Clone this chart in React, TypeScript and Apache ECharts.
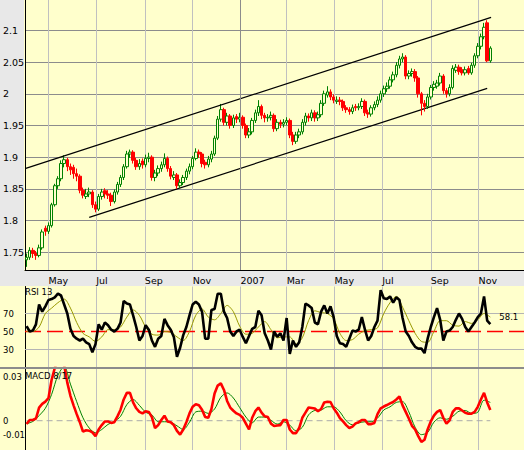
import React, { useEffect, useRef } from 'react';
import * as echarts from 'echarts';

// ---------- data ----------
const X_START: [number, number, number] = [2006, 3, 1]; // 1 Apr 2006
const X_END: [number, number, number] = [2007, 11, 29]; // 29 Dec 2007
const FIRST_BAR: [number, number, number] = [2006, 3, 3];
const BAR_STEP_DAYS = 4;
const MONTHS = ['Jan', 'Feb', 'Mar', 'Apr', 'May', 'Jun', 'Jul', 'Aug', 'Sep', 'Oct', 'Nov', 'Dec'];

// [open, close, low, high]
const CANDLES: number[][] = [
  [1.738, 1.742, 1.727, 1.748], [1.742, 1.753, 1.738, 1.758], [1.753, 1.748, 1.741, 1.757], [1.748, 1.745, 1.738, 1.752],
  [1.745, 1.757, 1.742, 1.762], [1.757, 1.782, 1.754, 1.786], [1.788, 1.783, 1.776, 1.792], [1.783, 1.792, 1.779, 1.797],
  [1.792, 1.825, 1.789, 1.828], [1.825, 1.855, 1.822, 1.858], [1.855, 1.866, 1.85, 1.87], [1.866, 1.89, 1.862, 1.895],
  [1.89, 1.896, 1.884, 1.903], [1.896, 1.885, 1.878, 1.899], [1.885, 1.88, 1.872, 1.89], [1.884, 1.874, 1.866, 1.888],
  [1.874, 1.87, 1.862, 1.882], [1.87, 1.848, 1.843, 1.873], [1.848, 1.84, 1.835, 1.852], [1.838, 1.842, 1.834, 1.85],
  [1.842, 1.845, 1.837, 1.852], [1.845, 1.825, 1.82, 1.848], [1.825, 1.818, 1.813, 1.83], [1.818, 1.838, 1.815, 1.842],
  [1.838, 1.845, 1.833, 1.85], [1.847, 1.842, 1.835, 1.851], [1.842, 1.84, 1.834, 1.848], [1.84, 1.83, 1.823, 1.844],
  [1.83, 1.845, 1.827, 1.849], [1.845, 1.857, 1.841, 1.861], [1.857, 1.868, 1.853, 1.872], [1.868, 1.885, 1.864, 1.889],
  [1.885, 1.905, 1.882, 1.91], [1.905, 1.908, 1.899, 1.912], [1.908, 1.895, 1.89, 1.911], [1.895, 1.885, 1.88, 1.899],
  [1.885, 1.89, 1.88, 1.897], [1.894, 1.888, 1.882, 1.898], [1.888, 1.898, 1.884, 1.904], [1.898, 1.9, 1.892, 1.907],
  [1.9, 1.868, 1.863, 1.903], [1.868, 1.875, 1.862, 1.88], [1.875, 1.882, 1.87, 1.887], [1.882, 1.888, 1.877, 1.893],
  [1.888, 1.898, 1.884, 1.906], [1.898, 1.882, 1.877, 1.901], [1.882, 1.87, 1.865, 1.886], [1.868, 1.872, 1.864, 1.878],
  [1.872, 1.855, 1.85, 1.875], [1.855, 1.86, 1.851, 1.865], [1.86, 1.868, 1.856, 1.872], [1.868, 1.878, 1.864, 1.882],
  [1.878, 1.885, 1.873, 1.89], [1.885, 1.898, 1.881, 1.902], [1.898, 1.908, 1.895, 1.914], [1.908, 1.905, 1.899, 1.912],
  [1.905, 1.89, 1.884, 1.908], [1.892, 1.888, 1.882, 1.896], [1.888, 1.897, 1.884, 1.902], [1.897, 1.905, 1.892, 1.91],
  [1.905, 1.93, 1.902, 1.934], [1.93, 1.96, 1.927, 1.965], [1.96, 1.975, 1.956, 1.984], [1.975, 1.955, 1.95, 1.978],
  [1.955, 1.965, 1.95, 1.97], [1.965, 1.95, 1.945, 1.968], [1.95, 1.962, 1.946, 1.967], [1.964, 1.96, 1.954, 1.968],
  [1.96, 1.963, 1.955, 1.97], [1.963, 1.95, 1.945, 1.966], [1.95, 1.935, 1.93, 1.953], [1.935, 1.94, 1.93, 1.946],
  [1.94, 1.958, 1.936, 1.962], [1.958, 1.97, 1.954, 1.975], [1.97, 1.98, 1.965, 1.99], [1.98, 1.966, 1.96, 1.983],
  [1.966, 1.962, 1.955, 1.97], [1.962, 1.963, 1.956, 1.968], [1.963, 1.966, 1.958, 1.972], [1.966, 1.945, 1.94, 1.969],
  [1.945, 1.955, 1.941, 1.96], [1.955, 1.952, 1.946, 1.959], [1.952, 1.955, 1.947, 1.96], [1.955, 1.958, 1.95, 1.963],
  [1.958, 1.935, 1.93, 1.961], [1.935, 1.925, 1.919, 1.94], [1.925, 1.935, 1.921, 1.94], [1.935, 1.94, 1.93, 1.945],
  [1.94, 1.955, 1.936, 1.96], [1.955, 1.965, 1.95, 1.97], [1.965, 1.962, 1.956, 1.969], [1.962, 1.97, 1.957, 1.975],
  [1.97, 1.962, 1.956, 1.974], [1.962, 1.967, 1.957, 1.972], [1.967, 1.985, 1.963, 1.99], [1.985, 2.0, 1.981, 2.005],
  [1.998, 2.003, 1.994, 2.012], [2.003, 1.995, 1.99, 2.007], [1.995, 1.99, 1.985, 1.999], [1.988, 1.99, 1.984, 1.996],
  [1.99, 1.988, 1.982, 1.995], [1.988, 1.978, 1.973, 1.991], [1.978, 1.975, 1.97, 1.982], [1.975, 1.972, 1.967, 1.979],
  [1.972, 1.978, 1.968, 1.983], [1.98, 1.978, 1.973, 1.984], [1.978, 1.98, 1.974, 1.985], [1.98, 1.988, 1.976, 1.993],
  [1.988, 1.97, 1.965, 1.991], [1.97, 1.968, 1.962, 1.975], [1.968, 1.978, 1.964, 1.982], [1.978, 1.983, 1.974, 1.988],
  [1.983, 1.99, 1.979, 1.996], [1.99, 2.0, 1.986, 2.005], [2.0, 2.008, 1.995, 2.013], [2.008, 2.012, 2.003, 2.018],
  [2.012, 2.022, 2.008, 2.027], [2.022, 2.03, 2.018, 2.035], [2.03, 2.045, 2.026, 2.05], [2.045, 2.055, 2.04, 2.06],
  [2.055, 2.058, 2.05, 2.064], [2.058, 2.028, 2.023, 2.061], [2.028, 2.032, 2.023, 2.037], [2.032, 2.035, 2.027, 2.04],
  [2.035, 2.025, 2.019, 2.039], [2.025, 2.0, 1.994, 2.028], [2.0, 1.985, 1.966, 2.003], [1.985, 1.98, 1.972, 1.99],
  [1.98, 1.995, 1.976, 2.0], [1.995, 2.01, 1.991, 2.014], [2.01, 2.015, 2.005, 2.02], [2.012, 2.017, 2.008, 2.022],
  [2.017, 2.028, 2.013, 2.033], [2.028, 2.005, 2.0, 2.031], [2.005, 2.0, 1.994, 2.009], [2.0, 2.01, 1.996, 2.015],
  [2.01, 2.04, 2.007, 2.045], [2.037, 2.042, 2.033, 2.047], [2.042, 2.035, 2.03, 2.046], [2.038, 2.033, 2.029, 2.042],
  [2.033, 2.038, 2.029, 2.043], [2.04, 2.033, 2.03, 2.044], [2.033, 2.045, 2.03, 2.049], [2.045, 2.06, 2.041, 2.064],
  [2.06, 2.075, 2.056, 2.08], [2.075, 2.09, 2.07, 2.095], [2.09, 2.105, 2.086, 2.112], [2.112, 2.052, 2.05, 2.116],
  [2.052, 2.072, 2.049, 2.075],
];

const UPPER_CHANNEL: [string, number][] = [['2006-04-02', 1.8823], ['2007-11-17', 2.1205]];
const LOWER_CHANNEL: [string, number][] = [['2006-06-22', 1.805], ['2007-11-12', 2.0085]];
const YEAR_MARK = '2007-01-01';

// RSI 13, one value per bar
const RSI: number[] = [
  56, 50, 51, 58, 80, 72, 78, 85, 86, 88,
  92, 90, 80, 70, 53, 45, 42, 40, 42, 38,
  36, 27, 36, 58, 52, 60, 57, 52, 50, 53,
  60, 84, 81, 80, 68, 55, 40, 45, 57, 52,
  40, 33, 42, 45, 64, 57, 52, 44, 22, 32,
  46, 55, 68, 80, 83, 80, 72, 42, 42, 74,
  75, 92, 92, 72, 65, 50, 45, 50, 52, 44,
  37, 45, 53, 55, 73, 68, 48, 40, 30, 50,
  44, 48, 40, 65, 25, 40, 33, 38, 55, 81,
  79, 76, 60, 58, 72, 79, 70, 78, 66, 45,
  37, 36, 33, 42, 51, 50, 52, 66, 52, 40,
  45, 55, 62, 96, 87, 86, 89, 82, 88, 85,
  65, 50, 45, 38, 33, 31, 31, 26, 42, 55,
  66, 76, 63, 40, 50, 51, 55, 63, 70, 64,
  55, 50, 55, 60, 66, 70, 89, 62, 58.1,
];
// RSI signal, one value every second bar
const RSI_SIGNAL: number[] = [
  50, 50, 55, 70, 76, 82, 86, 76, 60, 48,
  44, 39, 44, 52, 52, 55, 66, 74, 68, 55,
  47, 46, 50, 49, 44, 40, 50, 68, 75, 66,
  63, 70, 79, 72, 56, 47, 48, 55, 61, 52,
  43, 44, 44, 36, 43, 62, 73, 71, 70, 64,
  48, 40, 41, 47, 51, 52, 54, 70, 82, 89,
  77, 62, 48, 39, 38, 50, 62, 62, 57, 56,
  61, 59, 63, 70, 66,
];
const RSI_GUIDES = [30, 70];
const RSI_MID = 50;
const RSI_LABELS = [30, 50, 70];

// MACD 8/17, one value per bar
const MACD: number[] = [
  -0.0023, 0.0005, 0.0005, 0.0015, 0.009, 0.0115, 0.013, 0.0155, 0.028, 0.036,
  0.042, 0.044, 0.038, 0.026, 0.017, 0.0105, 0.0045, -0.001, -0.0075, -0.0065,
  -0.0068, -0.008, -0.0105, -0.006, -0.003, -0.0005, -0.0005, -0.0015, -0.001, 0.003,
  0.0075, 0.0145, 0.019, 0.019, 0.0125, 0.0085, 0.006, 0.005, 0.0065, 0.006,
  0.0025, -0.005, -0.003, 0.0005, 0.0034, -0.0005, -0.001, -0.003, -0.007, -0.0095,
  -0.006, -0.001, 0.005, 0.0095, 0.0112, 0.0105, 0.0075, 0.0025, 0.002, 0.008,
  0.0186, 0.024, 0.0255, 0.021, 0.0135, 0.009, 0.0068, 0.005, 0.004, 0.002,
  -0.002, -0.006, 0.002, 0.0065, 0.009, 0.0055, 0.003, 0.0025, -0.002, -0.0036,
  -0.0033, -0.003, 0.0005, 0.0005, -0.006, -0.0085, -0.0085, -0.005, 0.002, 0.0055,
  0.009, 0.0087, 0.0084, 0.0065, 0.008, 0.0125, 0.013, 0.0128, 0.0085, 0.0055,
  0.0018, -0.0005, -0.003, -0.005, -0.004, -0.0018, -0.001, 0.0005, 0.0005, -0.0023,
  -0.0023, -0.0015, 0.0045, 0.0085, 0.0097, 0.0107, 0.0118, 0.0128, 0.0145, 0.0165,
  0.0105, 0.006, 0.0015, -0.0035, -0.006, -0.0105, -0.0145, -0.013, -0.006, -0.0005,
  0.0035, 0.006, 0.0073, 0.002, -0.002, 0.0002, 0.006, 0.0084, 0.0084, 0.007,
  0.0054, 0.0048, 0.0048, 0.006, 0.0095, 0.0145, 0.019, 0.0125, 0.0073,
];
// MACD signal, one value every second bar
const MACD_SIGNAL: number[] = [
  -0.002, -0.0005, 0.0035, 0.0085, 0.018, 0.031, 0.037, 0.025, 0.013, 0.002,
  -0.005, -0.0082, -0.006, -0.0025, -0.0005, 0.003, 0.011, 0.0145, 0.0105, 0.0058,
  0.004, -0.0007, -0.0007, -0.001, -0.0035, -0.006, -0.001, 0.006, 0.0065, 0.005,
  0.008, 0.016, 0.019, 0.0155, 0.009, 0.0025, -0.0015, 0.0025, 0.0025, 0.0002,
  -0.0023, -0.0007, -0.003, -0.007, -0.0045, 0.004, 0.007, 0.0073, 0.0095, 0.0095,
  0.006, 0.0, -0.0028, -0.0015, -0.0007, -0.0007, 0.0018, 0.0073, 0.0095, 0.0125,
  0.013, 0.006, -0.0045, -0.0095, -0.008, -0.001, 0.002, 0.001, 0.003, 0.0065,
  0.007, 0.005, 0.0058, 0.014, 0.0125,
];
const MACD_LABELS = [0.03, 0, -0.01];
const MACD_ZERO = 0;

const PRICE_RANGE = [1.722, 2.148];
const RSI_RANGE = [10, 100];
const MACD_RANGE = [-0.02, 0.036];

// ---------- helpers ----------
const barTime = (i: number) =>
  new Date(FIRST_BAR[0], FIRST_BAR[1], FIRST_BAR[2] + BAR_STEP_DAYS * i).getTime();
const X_MIN = new Date(X_START[0], X_START[1], X_START[2]).getTime();
const X_MAX = new Date(X_END[0], X_END[1], X_END[2]).getTime();

const FONT = '"DejaVu Sans", Verdana, sans-serif';
const YELLOW = '#FFFFCC';
const GRAY_BG = '#E8E8E8';

export default function App() {
  const ref = useRef<HTMLDivElement>(null);

  useEffect(() => {
    if (!ref.current) return;
    const chart = echarts.init(ref.current, undefined, { renderer: 'svg' });

    const candleData = CANDLES.map((c, i) => [barTime(i), c[0], c[1], c[2], c[3]]);
    const rsiData = RSI.map((v, i) => [barTime(i), v]);
    const rsiSigData = RSI_SIGNAL.map((v, k) => [barTime(2 * k), v]);
    const macdData = MACD.map((v, i) => [barTime(i), v]);
    const macdSigData = MACD_SIGNAL.map((v, k) => [barTime(2 * k), v]);
    const firstBar = barTime(0);
    const lastBar = barTime(CANDLES.length - 1);

    const xAxis = (gridIndex: number, labels: boolean) => ({
      type: 'time',
      gridIndex,
      min: X_MIN,
      max: X_MAX,
      splitNumber: 8,
      axisLine: { show: labels, onZero: false, lineStyle: { color: '#000', width: 1 } },
      axisTick: { show: false },
      axisLabel: labels
        ? {
            show: true,
            align: 'left',
            margin: 5,
            color: '#000',
            fontSize: 9.5,
            fontFamily: FONT,
            showMinLabel: false,
            showMaxLabel: false,
            hideOverlap: false,
            formatter: (val: number) => {
              const d = new Date(val);
              return d.getMonth() === 0 ? String(d.getFullYear()) : MONTHS[d.getMonth()];
            },
          }
        : { show: false },
      splitLine: {
        show: true,
        showMinLine: false,
        showMaxLine: false,
        lineStyle: { color: '#C0C0C0', width: 1 },
      },
    });

    const yLabel = {
      align: 'left',
      margin: 22,
      color: '#000',
      fontSize: 9.5,
      fontFamily: FONT,
    };
    const ySmallLabel = { ...yLabel, fontSize: 8.5 };

    const flatLine = (
      xi: number,
      value: number,
      from: number,
      to: number,
      color: string,
      dash: number[],
      width: number,
    ) => ({
      type: 'line',
      xAxisIndex: xi,
      yAxisIndex: xi,
      data: [
        [from, value],
        [to, value],
      ],
      showSymbol: false,
      silent: true,
      lineStyle: { color, width, type: dash },
      z: 1,
    });

    const option: any = {
      animation: false,
      backgroundColor: YELLOW,
      grid: [
        { left: 24, right: 0, top: 0, height: 270 },
        { left: 24, right: 0, top: 286.5, height: 81 },
        { left: 24, right: 0, top: 368, height: 82 },
      ],
      xAxis: [xAxis(0, true), xAxis(1, false), xAxis(2, false)],
      yAxis: [
        {
          type: 'value',
          gridIndex: 0,
          min: PRICE_RANGE[0],
          max: PRICE_RANGE[1],
          splitNumber: 8,
          axisLine: { show: true, lineStyle: { color: '#000' } },
          axisTick: { show: false },
          axisLabel: { ...yLabel, showMinLabel: false, showMaxLabel: false },
          splitLine: {
            show: true,
            showMinLine: false,
            showMaxLine: false,
            lineStyle: { color: '#8C8C8C', width: 1 },
          },
        },
        {
          type: 'value',
          gridIndex: 1,
          min: RSI_RANGE[0],
          max: RSI_RANGE[1],
          interval: 10,
          axisLine: { show: true, lineStyle: { color: '#000' } },
          axisTick: { show: false },
          axisLabel: {
            ...ySmallLabel,
            formatter: (v: number) => (RSI_LABELS.includes(Math.round(v)) ? String(Math.round(v)) : ''),
          },
          splitLine: { show: false },
        },
        {
          type: 'value',
          gridIndex: 2,
          min: MACD_RANGE[0],
          max: MACD_RANGE[1],
          interval: 0.01,
          axisLine: { show: true, lineStyle: { color: '#000' } },
          axisTick: { show: false },
          axisLabel: {
            ...ySmallLabel,
            formatter: (v: number) => {
              const r = Math.round(v * 1000) / 1000;
              return MACD_LABELS.some((m) => Math.abs(m - r) < 1e-6) ? String(r) : '';
            },
          },
          splitLine: { show: false },
        },
      ],
      series: [
        {
          type: 'line',
          name: 'lower',
          xAxisIndex: 0,
          yAxisIndex: 0,
          data: LOWER_CHANNEL,
          showSymbol: false,
          lineStyle: { color: '#000', width: 1.2 },
          z: 1,
          markLine: {
            silent: true,
            symbol: 'none',
            label: { show: false },
            lineStyle: { color: '#8C8C8C', width: 1, type: 'solid' },
            data: [{ xAxis: YEAR_MARK }],
          },
        },
        {
          type: 'candlestick',
          xAxisIndex: 0,
          yAxisIndex: 0,
          data: candleData,
          encode: { x: 0, y: [1, 2, 3, 4] },
          barWidth: 3,
          itemStyle: {
            color: YELLOW,
            color0: '#FF0000',
            borderColor: '#008000',
            borderColor0: '#FF0000',
            borderWidth: 1,
          },
          z: 3,
        },
        {
          type: 'line',
          name: 'upper',
          xAxisIndex: 0,
          yAxisIndex: 0,
          data: UPPER_CHANNEL,
          showSymbol: false,
          lineStyle: { color: '#000', width: 1.2 },
          z: 4,
        },
        // RSI guides (30 / 70) and the red dashed 50 line
        ...RSI_GUIDES.map((v, k) => ({
          ...flatLine(1, v, X_MIN, X_MAX, '#B4B4B4', [3000, 1], 1.1),
          name: `guide${k}`,
        })),
        { ...flatLine(1, RSI_MID, X_MIN, X_MAX, '#FF0000', [16, 6], 1.3), name: 'mid' },
        {
          type: 'line',
          name: 'rsiSignal',
          xAxisIndex: 1,
          yAxisIndex: 1,
          data: rsiSigData,
          showSymbol: false,
          smooth: 0.3,
          lineStyle: { color: '#999900', width: 1 },
          z: 2,
        },
        {
          type: 'line',
          name: 'rsi',
          xAxisIndex: 1,
          yAxisIndex: 1,
          data: rsiData,
          showSymbol: false,
          lineStyle: { color: '#000', width: 2.6 },
          z: 3,
          endLabel: {
            show: true,
            formatter: (p: any) => Number(p.value[1]).toFixed(1),
            distance: 9,
            offset: [0, -7],
            color: '#000',
            fontSize: 8.5,
            fontFamily: FONT,
          },
        },
        // MACD zero line
        { ...flatLine(2, MACD_ZERO, firstBar, lastBar, '#AAAAAA', [6, 4], 1), name: 'zero' },
        {
          type: 'line',
          name: 'macdSignal',
          xAxisIndex: 2,
          yAxisIndex: 2,
          data: macdSigData,
          showSymbol: false,
          smooth: 0.3,
          lineStyle: { color: '#008000', width: 1 },
          z: 2,
        },
        {
          type: 'line',
          name: 'macd',
          xAxisIndex: 2,
          yAxisIndex: 2,
          data: macdData,
          showSymbol: false,
          lineStyle: { color: '#FF0000', width: 2.6 },
          z: 3,
        },
      ],
      graphic: [
        { type: 'rect', z: -1, shape: { x: 0, y: 0, width: 24, height: 286 }, style: { fill: GRAY_BG } },
        { type: 'rect', z: -1, shape: { x: 0, y: 271, width: 524, height: 15 }, style: { fill: GRAY_BG } },
        { type: 'rect', z: 50, shape: { x: 0, y: 367, width: 524, height: 2 }, style: { fill: '#8C8C8C' } },
        {
          type: 'text',
          z: 50,
          x: 25,
          y: 287,
          style: { text: 'RSI 13', fill: '#000', font: `8.5px ${FONT}` },
        },
        {
          type: 'text',
          z: 50,
          x: 25,
          y: 371,
          style: { text: 'MACD 8/17', fill: '#000', font: `8.5px ${FONT}` },
        },
      ],
    };

    chart.setOption(option);
    return () => chart.dispose();
  }, []);

  return (
    <>
      <style>{`html,body{margin:0;padding:0;background:${YELLOW};}`}</style>
      <div ref={ref} style={{ width: 524, height: 450 }} />
    </>
  );
}
